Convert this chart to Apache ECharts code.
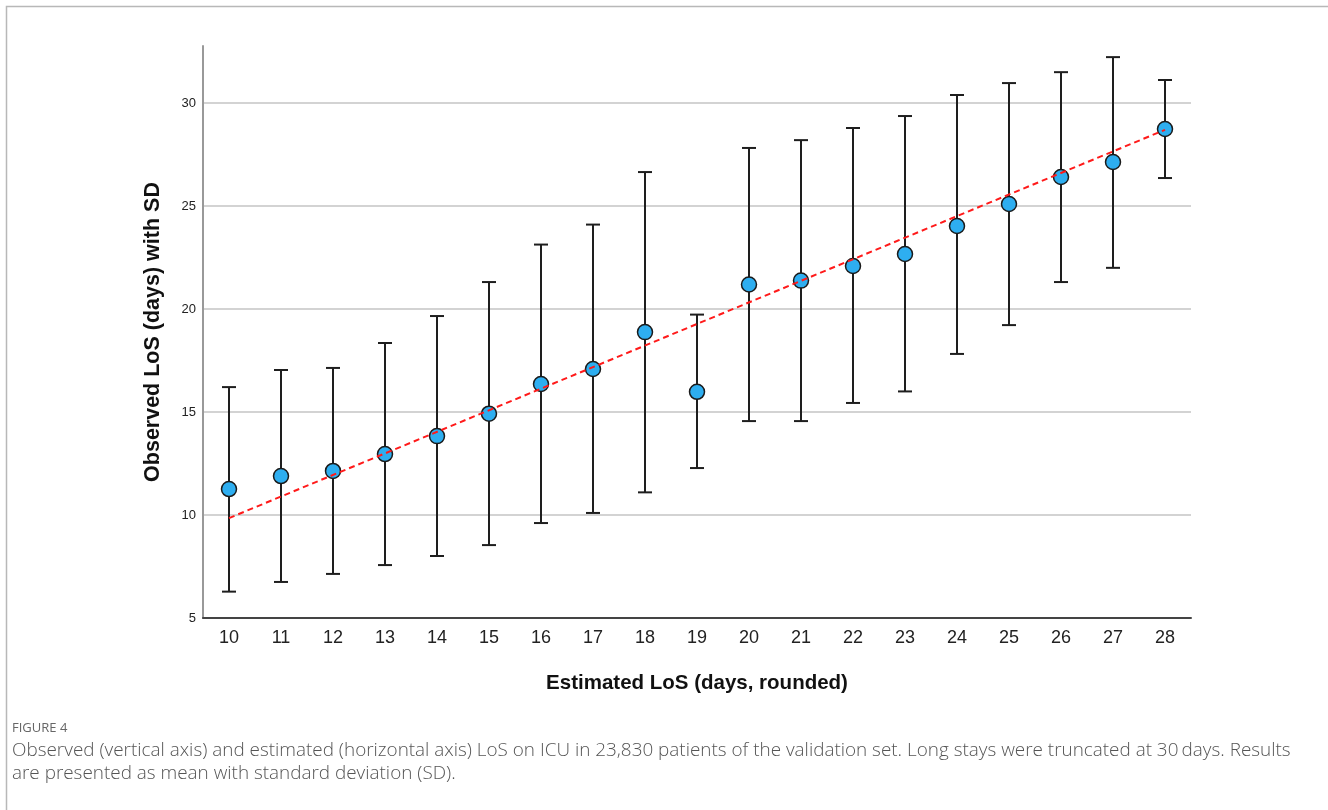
<!DOCTYPE html>
<html>
<head>
<meta charset="utf-8">
<script src="https://cdn.jsdelivr.net/npm/echarts@6/dist/echarts.min.js"></script>
<style>
html,body{margin:0;padding:0;background:#fff;}
#chart{width:1328px;height:810px;}
</style>
</head>
<body>
<div id="chart"></div>
<script>
// Data
const categories = ['10','11','12','13','14','15','16','17','18','19','20','21','22','23','24','25','26','27','28'];
const meanLoS  = [11.26, 11.89, 12.14, 12.96, 13.83, 14.92, 16.36, 17.09, 18.88, 15.98, 21.19, 21.38, 22.09, 22.67, 24.03, 25.10, 26.41, 27.14, 28.74];
const upperSD  = [16.21, 17.04, 17.14, 18.35, 19.66, 21.31, 23.13, 24.10, 26.65, 19.73, 27.82, 28.20, 28.79, 29.37, 30.39, 30.97, 31.50, 32.23, 31.12];
const lowerSD  = [6.28, 6.75, 7.14, 7.57, 8.01, 8.54, 9.61, 10.10, 11.10, 12.28, 14.56, 14.56, 15.44, 16.00, 17.82, 19.22, 21.31, 22.00, 26.36];
const fitLineCats = ['10', '28'];
const fitLineVals = [9.85, 28.70];
const yTicks = [5, 10, 15, 20, 25, 30];

const chart = echarts.init(document.getElementById('chart'), null, {renderer: 'canvas'});

const errData = categories.map((c, i) => [i, lowerSD[i], upperSD[i]]);

const option = {
  backgroundColor: '#ffffff',
  animation: false,
  grid: {left: 203, right: 137, top: 46, bottom: 192, outerBoundsMode: 'none', containLabel: false},
  xAxis: {
    type: 'category',
    data: categories,
    boundaryGap: true,
    name: 'Estimated LoS (days, rounded)',
    nameLocation: 'middle',
    nameGap: 55,
    nameTextStyle: {fontFamily: 'Liberation Sans, Arial, sans-serif', fontSize: 20.5, fontWeight: 'bold', color: '#111'},
    axisLine: {show: true, lineStyle: {color: '#444', width: 2}},
    axisTick: {show: false},
    axisLabel: {fontFamily: 'Liberation Sans, Arial, sans-serif', fontSize: 18, color: '#222', margin: 11},
    splitLine: {show: false}
  },
  yAxis: {
    type: 'value',
    min: 5,
    max: 32.77,
    interval: 5,
    name: 'Observed LoS (days) with SD',
    nameLocation: 'middle',
    nameGap: 39,
    nameRotate: 90,
    nameTextStyle: {fontFamily: 'Liberation Sans, Arial, sans-serif', fontSize: 21.5, fontWeight: 'bold', color: '#111'},
    axisLine: {show: true, lineStyle: {color: '#999', width: 2}},
    axisTick: {show: false},
    axisLabel: {
      fontFamily: 'Liberation Sans, Arial, sans-serif', fontSize: 13, color: '#222', margin: 7,
      showMaxLabel: false,
      formatter: v => (yTicks.indexOf(v) >= 0 ? String(v) : '')
    },
    splitLine: {show: true, showMinLine: false, showMaxLine: false, lineStyle: {color: '#c4c4c4', width: 1.5}}
  },
  series: [
    {
      type: 'custom',
      name: 'SD',
      data: errData,
      z: 2,
      renderItem: function (params, api) {
        const x = api.value(0);
        const lo = api.coord([x, api.value(1)]);
        const hi = api.coord([x, api.value(2)]);
        const hw = 7;
        const style = {stroke: '#1e1e1e', lineWidth: 2, fill: null};
        return {
          type: 'group',
          children: [
            {type: 'line', shape: {x1: lo[0], y1: lo[1], x2: hi[0], y2: hi[1]}, style: style},
            {type: 'line', shape: {x1: lo[0] - hw, y1: lo[1], x2: lo[0] + hw, y2: lo[1]}, style: style},
            {type: 'line', shape: {x1: hi[0] - hw, y1: hi[1], x2: hi[0] + hw, y2: hi[1]}, style: style}
          ]
        };
      }
    },
    {
      type: 'scatter',
      name: 'Mean',
      data: meanLoS,
      symbol: 'circle',
      symbolSize: 15,
      z: 3,
      itemStyle: {color: '#2eaef0', borderColor: '#1a1a1a', borderWidth: 1.5, opacity: 1}
    },
    {
      type: 'line',
      name: 'Fit',
      data: fitLineCats.map((c, i) => [c, fitLineVals[i]]),
      symbol: 'none',
      z: 4,
      lineStyle: {color: '#ff1a1a', width: 2, type: [6, 4]}
    }
  ],
  graphic: [
    {type: 'polyline', shape: {points: [[6.5, 820], [6.5, 6.5], [1340, 6.5]]}, style: {stroke: '#b8b8b8', lineWidth: 1.5, fill: null}, silent: true},
    {type: 'text', left: 12, top: 722, style: {text: 'FIGURE 4', fontFamily: 'Open Sans, Lato, sans-serif', fontSize: 13, fill: '#666'}},
    {type: 'text', left: 12, top: 741, style: {text: 'Observed (vertical axis) and estimated (horizontal axis) LoS on ICU in 23,830 patients of the validation set. Long stays were truncated at 30\u2009days. Results', fontFamily: 'Open Sans, Lato, sans-serif', fontSize: 18.9, fontWeight: 300, fill: '#555'}},
    {type: 'text', left: 12, top: 764, style: {text: 'are presented as mean with standard deviation (SD).', fontFamily: 'Open Sans, Lato, sans-serif', fontSize: 18.9, fontWeight: 300, fill: '#555'}}
  ]
};
chart.setOption(option);
</script>
</body>
</html>
